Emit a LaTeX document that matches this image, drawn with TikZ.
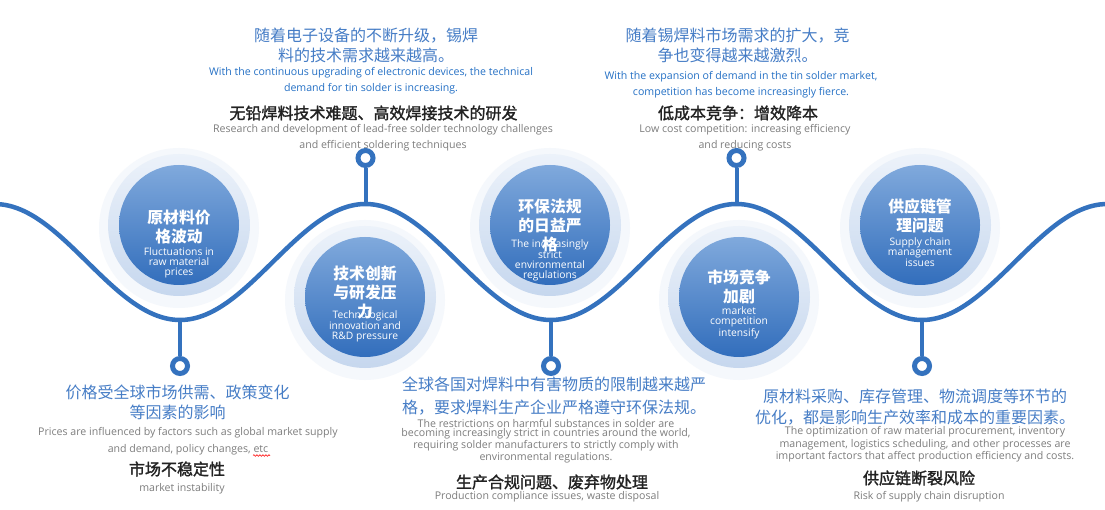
\documentclass[tikz,border=0pt]{standalone}
\usepackage{fontspec}
\setmainfont{Open Sans}
\newfontfamily\cjk{Noto Sans CJK SC}
\newfontfamily\cjkm[FakeBold=1.6]{Noto Sans CJK SC}
\usetikzlibrary{decorations.pathmorphing}
\definecolor{wave}{RGB}{52,114,190}
\definecolor{bubT}{RGB}{128,169,220}
\definecolor{bubB}{RGB}{50,110,188}
\definecolor{haloT}{RGB}{236,242,250}
\definecolor{haloB}{RGB}{198,215,238}
\definecolor{glowc}{RGB}{228,236,247}
\definecolor{cnblue}{RGB}{70,125,198}
\definecolor{enblue}{RGB}{36,112,197}
\definecolor{headc}{RGB}{34,34,34}
\definecolor{grayc}{RGB}{125,125,125}
\tikzset{
  glow/.style={circle, minimum size=160pt, inner sep=0, fill=glowc, opacity=0.35},
  halo/.style={circle, minimum size=142pt, inner sep=0, top color=haloT, bottom color=haloB},
  bubble/.style={circle, minimum size=120pt, inner sep=0, top color=bubT, bottom color=bubB},
  marker/.style={circle, minimum size=15pt, inner sep=0, draw=wave, line width=5pt, fill=white},
  stem/.style={draw=wave, line width=4pt},
  wavy/.style={draw=wave, line width=4.5pt},
  bcn/.style={font=\cjk\fontsize{16}{20}\selectfont, text=cnblue, align=center, inner sep=0},
  ben/.style={font=\fontsize{10.6}{16}\selectfont, text=enblue, align=center, inner sep=0},
  head/.style={font=\cjkm\fontsize{16}{20}\selectfont, text=headc, inner sep=0},
  grayt/.style={font=\fontsize{10.6}{16}\selectfont, text=grayc, align=center, inner sep=0},
  ccn/.style={font=\cjk\bfseries\fontsize{15.8}{19}\selectfont, text=white, align=center, inner sep=0},
  cen/.style={font=\fontsize{10.3}{10}\selectfont, text=white, align=center, inner sep=0}
}
\begin{document}
\begin{tikzpicture}[x=1pt,y=-1pt]
\useasboundingbox (0,0) rectangle (1105,510);
\fill[white] (0,0) rectangle (1105,510);

% wave
\draw[wavy] plot[domain=0:1105, samples=222, smooth] (\x, {262-58*cos(0.97035*(\x-365.5))});
\coordinate (t1) at (180,320);
\coordinate (t2) at (551,320);
\coordinate (t3) at (922,320);
\coordinate (k1) at (365.5,204);
\coordinate (k2) at (736.5,204);

% circles
\node[glow] (g1) at (179,228) {};
\node[halo] (h1) at (179,225) {};
\node[bubble] (b1) at (179,225) {};
\node[glow] (g2) at (365,300) {};
\node[halo] (h2) at (365,297) {};
\node[bubble] (b2) at (365,297) {};
\node[glow] (g3) at (550,228) {};
\node[halo] (h3) at (550,225) {};
\node[bubble] (b3) at (550,225) {};
\node[glow] (g4) at (739,300) {};
\node[halo] (h4) at (739,297) {};
\node[bubble] (b4) at (739,297) {};
\node[glow] (g5) at (920,228) {};
\node[halo] (h5) at (920,225) {};
\node[bubble] (b5) at (920,225) {};

% circle texts
\node[ccn] (c1z) at (179,226.5) {原材料价\\格波动};
\node[cen] (c1e) at (179,263) {Fluctuations in\\raw material\\prices};
\node[ccn] (c2z) at (365,292) {技术创新\\与研发压\\力};
\node[cen] (c2e) at (365,326.5) {Technological\\innovation and\\R\&D pressure};
\node[cen] (c3e) at (550,260.5) {The increasingly\\strict\\environmental\\regulations};
\node[ccn] (c3z) at (550,225) {环保法规\\的日益严\\格};
\node[ccn] (c4z) at (739,286.5) {市场竞争\\加剧};
\node[cen] (c4e) at (739,323) {market\\competition\\intensify};
\node[ccn] (c5z) at (920,215.5) {供应链管\\理问题};
\node[cen] (c5e) at (920,252) {Supply chain\\management\\issues};

% markers and stems
\node[marker] (m1) at (365.5,158) {};
\node[marker] (m2) at (736.5,158) {};
\node[marker] (m3) at (180,366) {};
\node[marker] (m4) at (551,366) {};
\node[marker] (m5) at (922,366) {};
\draw[stem] (k1) -- (m1);
\draw[stem] (k2) -- (m2);
\draw[stem] (t1) -- (m3);
\draw[stem] (t2) -- (m4);
\draw[stem] (t3) -- (m5);

% top-left block
\node[bcn] (tl1) at (366,45) {随着电子设备的不断升级，锡焊\\料的技术需求越来越高。};
\node[ben] (tl2) at (371,81) {With the continuous upgrading of electronic devices, the technical\\demand for tin solder is increasing.};
\node[head] (tl3) at (373.5,113) {无铅焊料技术难题、高效焊接技术的研发};
\node[grayt] (tl4) at (383,138) {Research and development of lead-free solder technology challenges\\and efficient soldering techniques};

% top-right block
\node[bcn] (tr1) at (737.5,45) {随着锡焊料市场需求的扩大，竞\\争也变得越来越激烈。};
\node[ben] (tr2) at (741,85) {With the expansion of demand in the tin solder market,\\competition has become increasingly fierce.};
\node[head] (tr3) at (738,113) {低成本竞争：增效降本};
\node[grayt] (tr4) at (745,138) {Low cost competition: increasing efficiency\\and reducing costs};

% bottom-left block
\node[bcn] (bl1) at (177.5,402) {价格受全球市场供需、政策变化\\等因素的影响};
\node[grayt, font=\fontsize{10.6}{17}\selectfont] (bl2) at (188,441.5) {Prices are influenced by factors such as global market supply\\and demand, policy changes, etc};
\node[head] (bl3) at (177,469) {市场不稳定性};
\node[grayt] (bl4) at (182,489) {market instability};
\draw[red, line width=0.6pt, decorate, decoration={snake, segment length=3pt, amplitude=0.8pt}] (253,455.5) -- (270,455.5);

% bottom-middle block
\node[bcn, align=left, anchor=west, font=\cjk\fontsize{16}{23}\selectfont] (bm1) at (402,396.5) {全球各国对焊料中有害物质的限制越来越严\\格，要求焊料生产企业严格遵守环保法规。};
\node[grayt, font=\fontsize{10.6}{9.5}\selectfont] (bm2) at (546,441) {The restrictions on harmful substances in solder are\\becoming increasingly strict in countries around the world,\\requiring solder manufacturers to strictly comply with\\environmental regulations.};
\node[head] (bm3) at (552,482) {生产合规问题、废弃物处理};
\node[grayt] (bm4) at (547,497) {Production compliance issues, waste disposal};

% bottom-right block
\node[bcn, font=\cjk\fontsize{16}{21}\selectfont] (br1) at (915,407.5) {原材料采购、库存管理、物流调度等环节的\\优化，都是影响生产效率和成本的重要因素。};
\node[grayt, font=\fontsize{10.6}{12.5}\selectfont] (br2) at (925,444.5) {The optimization of raw material procurement, inventory\\management, logistics scheduling, and other processes are\\important factors that affect production efficiency and costs.};
\node[head] (br3) at (919,478) {供应链断裂风险};
\node[grayt] (br4) at (929,497) {Risk of supply chain disruption};
\end{tikzpicture}
\end{document}
